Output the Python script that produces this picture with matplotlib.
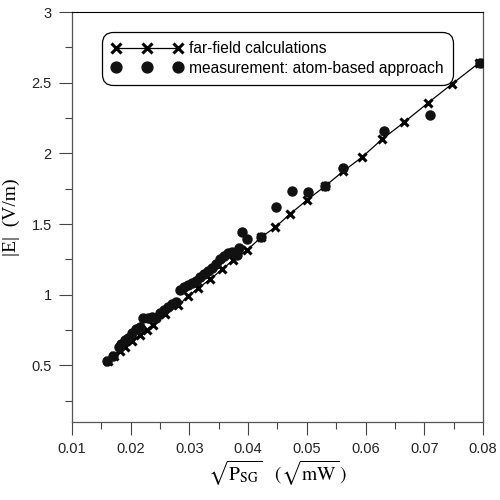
import matplotlib
matplotlib.use('Agg')
import matplotlib.pyplot as plt
from matplotlib.ticker import MultipleLocator

plt.rcParams['mathtext.fontset'] = 'stix'

# far-field calculations (sqrt(P_SG) in sqrt(mW), |E| in V/m)
calc_x = [0.0161, 0.0171, 0.0181, 0.0191, 0.0203, 0.0215, 0.0227, 0.0238,
          0.0258, 0.0281, 0.0298, 0.0315, 0.0335, 0.0356, 0.0374, 0.0398,
          0.0422, 0.0446, 0.0471, 0.0500, 0.0531, 0.0562, 0.0594, 0.0628,
          0.0666, 0.0706, 0.0747, 0.0793]
calc_y = [0.535, 0.568, 0.601, 0.634, 0.674, 0.714, 0.754, 0.783,
          0.862, 0.925, 0.989, 1.046, 1.109, 1.180, 1.244, 1.314,
          1.407, 1.477, 1.570, 1.669, 1.768, 1.874, 1.973, 2.100,
          2.221, 2.356, 2.490, 2.639]

# measurement: atom-based approach
meas_x = [0.01596, 0.01698, 0.01801, 0.01835, 0.01903, 0.01954, 0.02022, 0.02090,
          0.02158, 0.02210, 0.02295, 0.02363, 0.02431, 0.02499, 0.02567, 0.02635,
          0.02704, 0.02772, 0.02840, 0.02908, 0.02976, 0.03044, 0.03112, 0.03181,
          0.03249, 0.03317, 0.03385, 0.03453, 0.03521, 0.03589, 0.03658, 0.03726,
          0.03811, 0.03845, 0.03896, 0.03981, 0.04220, 0.04475, 0.04748, 0.05020,
          0.05310, 0.05617, 0.06315, 0.07099, 0.07951]
meas_y = [0.535, 0.564, 0.628, 0.649, 0.677, 0.691, 0.727, 0.755,
          0.769, 0.833, 0.833, 0.840, 0.833, 0.868, 0.890, 0.911,
          0.932, 0.946, 1.031, 1.052, 1.067, 1.081, 1.095, 1.123,
          1.144, 1.166, 1.187, 1.215, 1.251, 1.272, 1.293, 1.300,
          1.279, 1.329, 1.442, 1.392, 1.407, 1.619, 1.732, 1.725,
          1.768, 1.895, 2.157, 2.271, 2.639]

fig = plt.figure(figsize=(5, 5), dpi=100)
ax = fig.add_axes([0.144, 0.156, 0.822, 0.820])

ax.plot(calc_x, calc_y, color='black', lw=0.9, marker='x', ms=6, mew=2.2,
        label='far-field calculations', zorder=3)
ax.plot(meas_x, meas_y, ls='none', marker='o', ms=6.5, color='#111111',
        label='measurement: atom-based approach', zorder=4)

ax.set_xlim(0.01, 0.08)
ax.set_ylim(0.1, 3)
ax.xaxis.set_minor_locator(MultipleLocator(0.005))
ax.yaxis.set_minor_locator(MultipleLocator(0.25))
ax.set_xticks([0.01, 0.02, 0.03, 0.04, 0.05, 0.06, 0.07, 0.08])
ax.set_xticklabels(['0.01', '0.02', '0.03', '0.04', '0.05', '0.06', '0.07', '0.08'])
ax.set_yticks([0.5, 1, 1.5, 2, 2.5, 3])
ax.set_yticklabels(['0.5', '1', '1.5', '2', '2.5', '3'])

ax.tick_params(which='major', direction='out', length=9.5, width=0.8,
               color='#444444', labelsize=10.5, pad=5)
ax.tick_params(which='minor', direction='out', length=5, width=0.8, color='#444444')
ax.tick_params(top=False, right=False, which='both')
for lab in ax.get_xticklabels() + ax.get_yticklabels():
    lab.set_fontfamily('Liberation Sans')
    lab.set_color('#222222')

for s in ['left', 'right', 'bottom']:
    ax.spines[s].set_color('#555555')
    ax.spines[s].set_linewidth(0.9)
ax.spines['top'].set_color('black')

ax.set_ylabel('|E|  (V/m)', family='Liberation Serif', fontsize=14, labelpad=8)
ax.set_xlabel(r'$\sqrt{\mathrm{P}_{\mathrm{SG}}}\ \ \ (\sqrt{\mathrm{mW}}\,)$',
              fontsize=14, labelpad=2)

leg = ax.legend(loc='upper left', bbox_to_anchor=(0.085, 0.94), borderaxespad=0,
                numpoints=3, handlelength=4.6, handletextpad=0.4, markerscale=1.2,
                prop={'family': 'Liberation Sans', 'size': 11.2},
                fancybox=True, framealpha=1, borderpad=0.3, labelspacing=0.3)
leg.get_frame().set_edgecolor('black')
leg.get_frame().set_linewidth(0.9)
leg.get_frame().set_boxstyle('round', pad=0.3, rounding_size=0.7)

fig.savefig('out.png', dpi=100)
